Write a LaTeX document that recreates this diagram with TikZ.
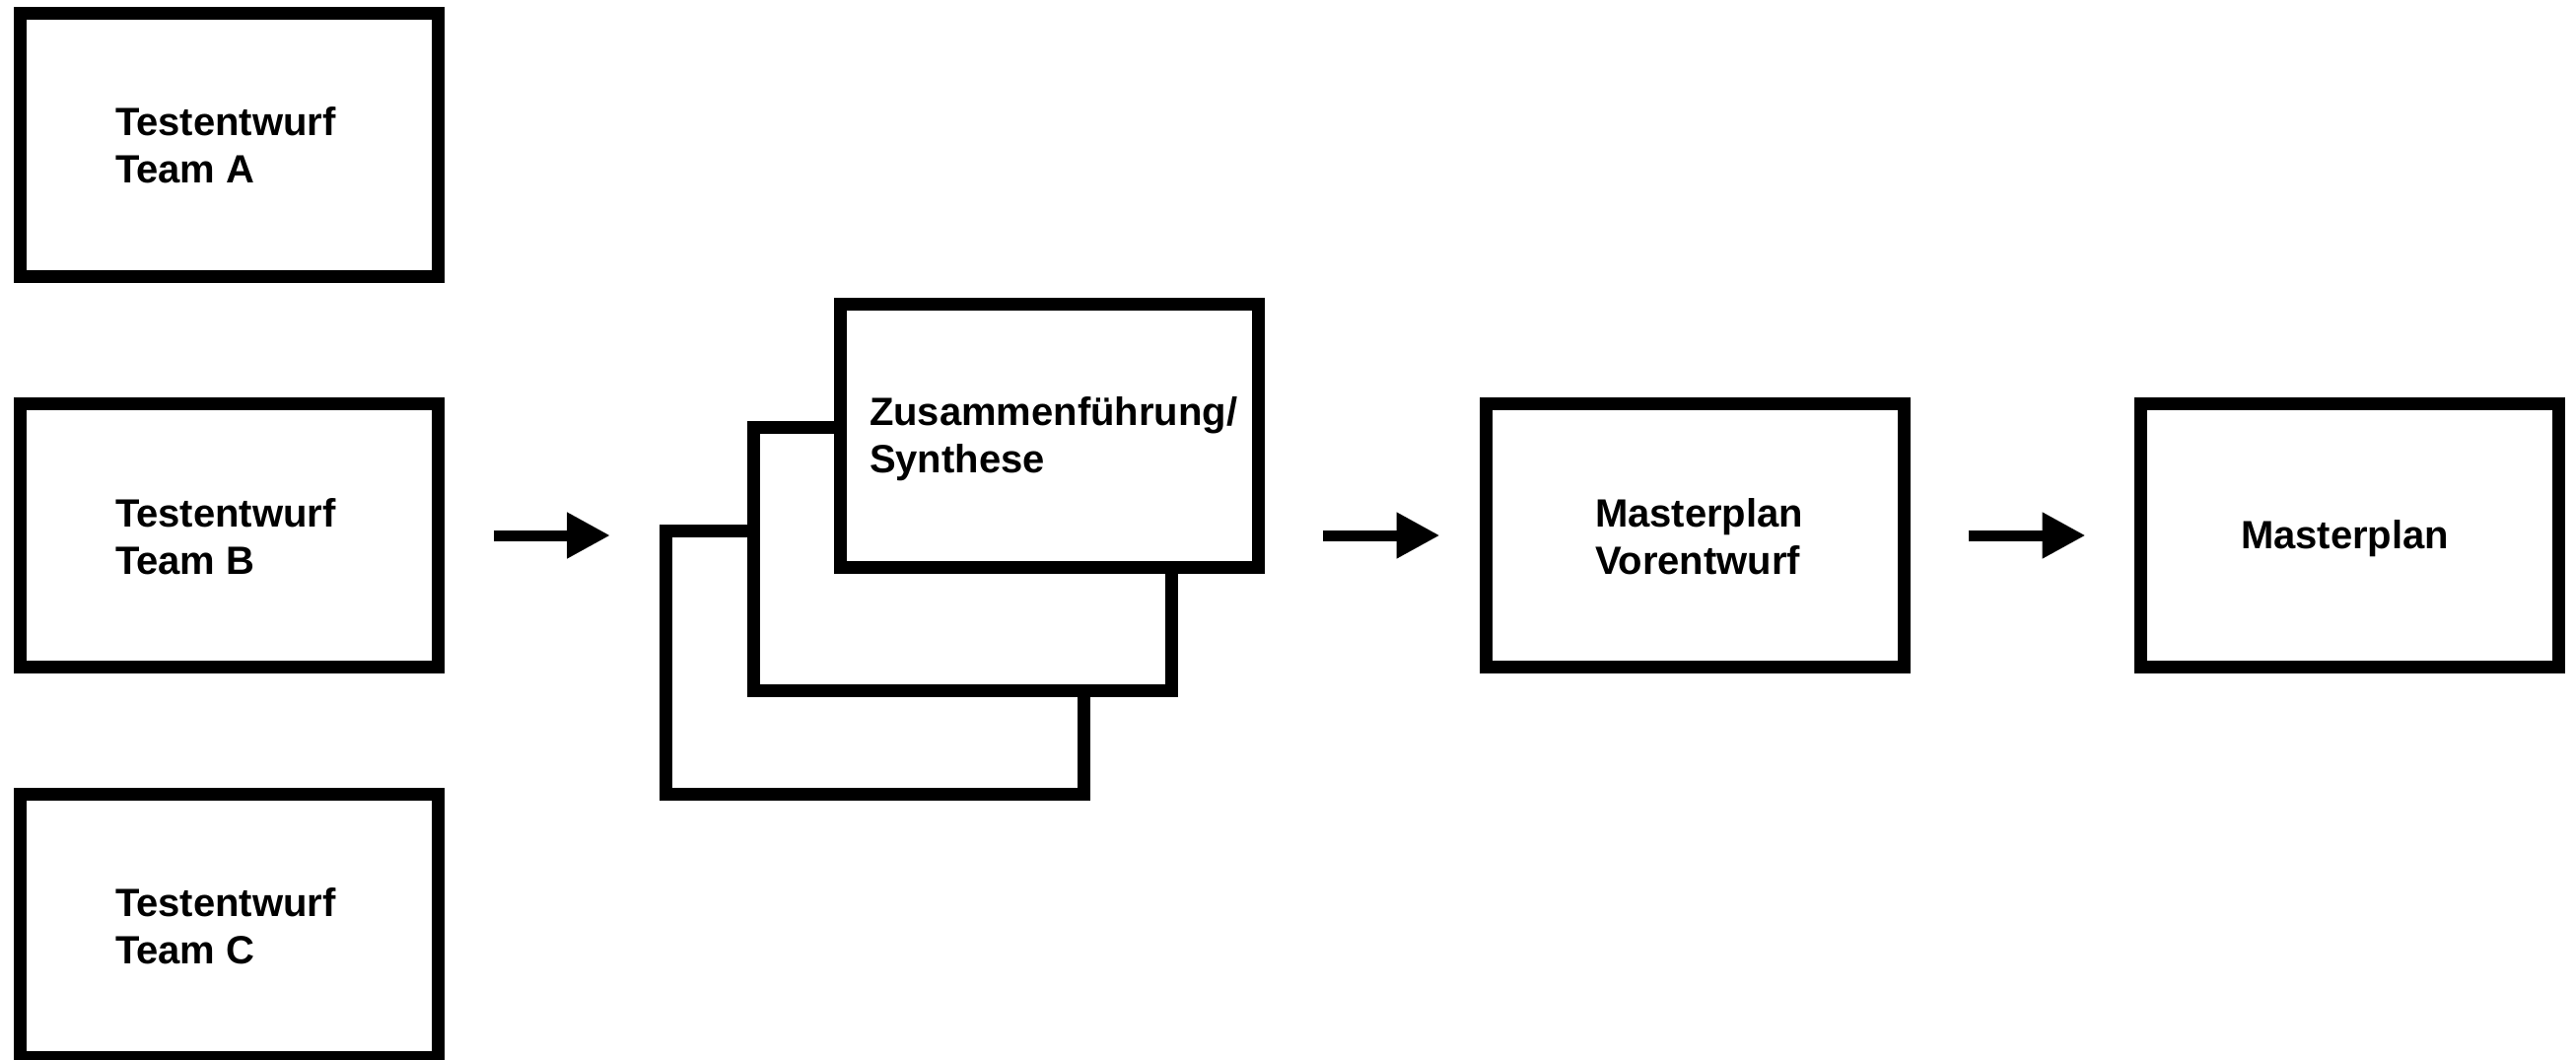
\documentclass[tikz,border=0pt]{standalone}
\usepackage{fontspec}
\setmainfont{Liberation Sans}
\usetikzlibrary{arrows.meta}
\begin{document}
\begin{tikzpicture}[x=1pt,y=-1pt,
  box/.style={draw=black, line width=13pt, fill=white, minimum width=424pt, minimum height=267pt, inner sep=0pt, outer sep=0pt, anchor=center},
  lbl/.style={font=\bfseries\fontsize{40}{48}\selectfont, inner sep=0pt, outer sep=0pt, align=left, anchor=base west},
  flow/.style={line width=11pt, -{Triangle[length=44pt,width=44pt]}}]
\useasboundingbox (0,0) rectangle (2613,1074);
% left column
\node[box] (A) at (232.5,147) {};
\node[box] (B) at (232.5,543) {};
\node[box] (C) at (232.5,938.5) {};
% stacked synthesis boxes
\node[box] (back) at (887.5,672) {};
\node[box] (middle) at (976,567) {};
\node[box] (front) at (1064.5,442) {};
% right boxes
\node[box] (V) at (1719,543) {};
\node[box] (M) at (2383,543) {};
% labels (base anchor = baseline of the last line)
\node[lbl] (tA) at (117,185) {Testentwurf\\Team A};
\node[lbl] (tB) at (117,582) {Testentwurf\\Team B};
\node[lbl] (tC) at (117,977) {Testentwurf\\Team C};
\node[lbl] (tS) at (882,479) {Zusammenführung/\\Synthese};
\node[lbl] (tV) at (1618,582) {Masterplan\\Vorentwurf};
\node[lbl] (tM) at (2273,556) {Masterplan};
% arrows
\draw[flow, shorten <=56.5pt, shorten >=56.5pt] (B.east) -- (B.east -| back.west);
\draw[flow, shorten <=65.5pt, shorten >=46.5pt] (V.west -| front.east) -- (V.west);
\draw[flow, shorten <=65.5pt, shorten >=55.5pt] (V.east) -- (M.west);
\end{tikzpicture}
\end{document}
